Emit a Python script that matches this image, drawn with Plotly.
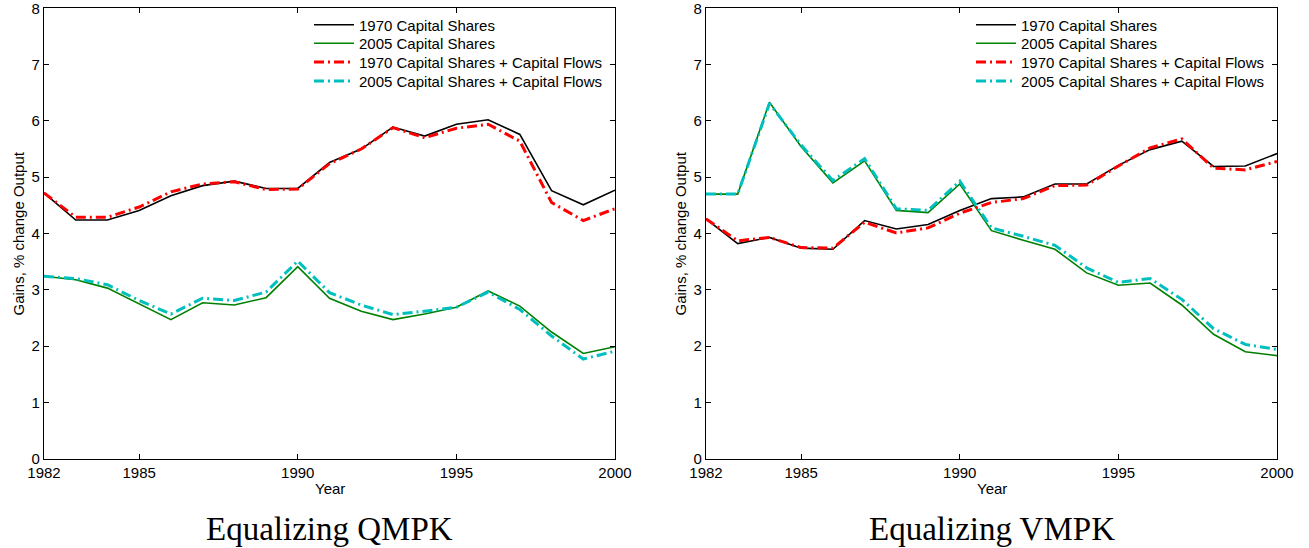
import plotly.graph_objects as go

years = list(range(1982, 2001))

# Left panel: Equalizing QMPK
qmpk_1970 = [4.72, 4.24, 4.24, 4.41, 4.67, 4.85, 4.93, 4.80, 4.80, 5.26, 5.50, 5.89, 5.73, 5.94, 6.02, 5.76, 4.76, 4.51, 4.77]
qmpk_2005 = [3.24, 3.18, 3.03, 2.75, 2.47, 2.77, 2.73, 2.86, 3.41, 2.85, 2.62, 2.47, 2.57, 2.69, 2.98, 2.71, 2.25, 1.87, 1.99]
qmpk_1970_flows = [4.72, 4.29, 4.29, 4.47, 4.74, 4.88, 4.92, 4.78, 4.79, 5.24, 5.50, 5.88, 5.70, 5.87, 5.94, 5.64, 4.55, 4.23, 4.44]
qmpk_2005_flows = [3.24, 3.20, 3.09, 2.81, 2.57, 2.85, 2.81, 2.96, 3.51, 2.95, 2.73, 2.56, 2.62, 2.69, 2.96, 2.65, 2.18, 1.77, 1.91]

# Right panel: Equalizing VMPK
vmpk_1970 = [4.26, 3.82, 3.93, 3.74, 3.72, 4.23, 4.08, 4.16, 4.41, 4.62, 4.65, 4.88, 4.88, 5.21, 5.49, 5.64, 5.19, 5.20, 5.42]
vmpk_2005 = [4.70, 4.70, 6.33, 5.54, 4.90, 5.29, 4.41, 4.37, 4.88, 4.05, 3.88, 3.72, 3.30, 3.08, 3.12, 2.73, 2.21, 1.90, 1.83]
vmpk_1970_flows = [4.26, 3.87, 3.93, 3.75, 3.74, 4.20, 4.01, 4.10, 4.36, 4.55, 4.62, 4.85, 4.86, 5.20, 5.52, 5.68, 5.16, 5.13, 5.28]
vmpk_2005_flows = [4.70, 4.70, 6.31, 5.57, 4.94, 5.33, 4.44, 4.41, 4.93, 4.10, 3.95, 3.79, 3.39, 3.13, 3.20, 2.83, 2.31, 2.03, 1.94]

series_names = ["1970 Capital Shares", "2005 Capital Shares",
                "1970 Capital Shares + Capital Flows", "2005 Capital Shares + Capital Flows"]
panel_titles = ["Equalizing QMPK", "Equalizing VMPK"]
x_ticks = [1982, 1985, 1990, 1995, 2000]
y_ticks = [0, 1, 2, 3, 4, 5, 6, 7, 8]

styles = [
    dict(color="#000000", width=1.6, dash="solid"),
    dict(color="#008000", width=1.6, dash="solid"),
    dict(color="#FF0000", width=3, dash="10px,4px,2px,4px"),
    dict(color="#00BFBF", width=3, dash="10px,4px,2px,4px"),
]

W, H = 1309, 548
font_sans = "Liberation Sans, Arial, sans-serif"
fig = go.Figure()

xd1 = [44 / W, 615 / W]
xd2 = [706 / W, 1277 / W]
yd = [(H - 458.7) / H, (H - 8.3) / H]

legend_rows_px = [25, 43.5, 62.3, 81.3]
legend_x_px = [309, 971]

panels = [
    ([qmpk_1970, qmpk_2005, qmpk_1970_flows, qmpk_2005_flows], "x", "y"),
    ([vmpk_1970, vmpk_2005, vmpk_1970_flows, vmpk_2005_flows], "x2", "y2"),
]
legend_layouts = {}
k = 0
for p, (data, xa, ya) in enumerate(panels):
    for i, (name, vals, st) in enumerate(zip(series_names, data, styles)):
        k += 1
        lg = "legend" if k == 1 else f"legend{k}"
        fig.add_trace(go.Scatter(x=years, y=vals, mode="lines", name=name, showlegend=True,
                                 line=dict(color=st["color"], width=st["width"], dash=st["dash"]),
                                 xaxis=xa, yaxis=ya, legend=lg))
        legend_layouts[lg] = dict(x=legend_x_px[p] / W, y=1 - legend_rows_px[i] / H,
                                  xanchor="left", yanchor="middle", visible=True,
                                  bgcolor="rgba(0,0,0,0)", borderwidth=0, itemwidth=40,
                                  font=dict(family=font_sans, size=15, color="black"))

axis_common = dict(showline=True, linecolor="black", linewidth=1.2, mirror="ticks",
                   ticks="inside", ticklen=5, tickcolor="black", tickwidth=1,
                   showgrid=False, zeroline=False, automargin=False,
                   ticklabeloverflow="allow",
                   tickfont=dict(family=font_sans, size=15, color="black"))

fig.update_layout(
    width=W, height=H,
    showlegend=True,
    margin=dict(l=0, r=0, t=0, b=0, autoexpand=False),
    paper_bgcolor="white", plot_bgcolor="white",
    xaxis=dict(domain=xd1, range=[1982, 2000], tickvals=x_ticks, anchor="y", **axis_common),
    yaxis=dict(domain=yd, range=[0, 8], tickvals=y_ticks, anchor="x", **axis_common),
    xaxis2=dict(domain=xd2, range=[1982, 2000], tickvals=x_ticks, anchor="y2", **axis_common),
    yaxis2=dict(domain=yd, range=[0, 8], tickvals=y_ticks, anchor="x2", **axis_common),
    **legend_layouts,
)

annotations = []
for xd, title in zip([xd1, xd2], panel_titles):
    cx = (xd[0] + xd[1]) / 2
    annotations.append(dict(text="Year", x=cx, y=1 - 488 / H, xref="paper", yref="paper",
                            xanchor="center", yanchor="middle", showarrow=False,
                            font=dict(family=font_sans, size=15, color="black")))
    annotations.append(dict(text=title, x=cx, y=1 - 529 / H, xref="paper", yref="paper",
                            xanchor="center", yanchor="middle", showarrow=False,
                            font=dict(family="Liberation Serif, Times New Roman, serif", size=33, color="black")))
    annotations.append(dict(text="Gains, % change Output", x=(xd[0] * W - 26) / W,
                            y=(yd[0] + yd[1]) / 2, xref="paper", yref="paper",
                            xanchor="center", yanchor="middle", textangle=-90, showarrow=False,
                            font=dict(family=font_sans, size=15, color="black")))
fig.update_layout(annotations=annotations)

fig.write_html("out.html", config={"displayModeBar": False},
               post_script="document.body.style.margin='0';document.body.style.overflow='hidden';")
